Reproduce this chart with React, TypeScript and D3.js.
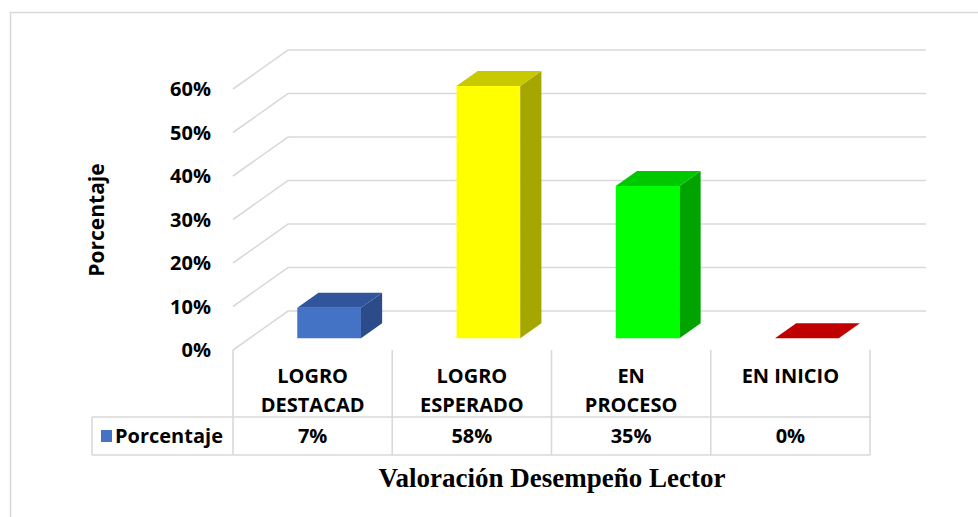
import React from "react";
import * as d3 from "d3";

// data
const categories = [
  ["LOGRO", "DESTACAD"],
  ["LOGRO", "ESPERADO"],
  ["EN", "PROCESO"],
  ["EN INICIO"],
];
const values = [0.07, 0.58, 0.35, 0];
const tickValues = [0, 0.1, 0.2, 0.3, 0.4, 0.5, 0.6];
const seriesName = "Porcentaje";
const axisTitle = "Porcentaje";
const chartTitle = "Valoración Desempeño Lector";

const barColors = [
  { front: "#4472C4", top: "#30559B", side: "#2B4C88" },
  { front: "#FFFF00", top: "#C9C900", side: "#A6A600" },
  { front: "#00FF00", top: "#00C800", side: "#00A300" },
  { front: "#C00000", top: "#C00000", side: "#990000" },
];

const W = 978;
const H = 517;
const grid = "#D9D9D9";
const sans = "'Open Sans', sans-serif";

export default function App() {
  const x = d3.scaleBand<number>().domain(d3.range(categories.length)).range([233, 870]);
  const y = d3.scaleLinear().domain([0, 0.6]).range([350, 89]);
  const depthX = 55;
  const depthY = -39;
  const gridRight = 926;
  const tableMid = 417;
  const tableBottom = 455;
  const tableLeft = 92;
  const pct = d3.format(".0%");

  // bar sits between depth 0.3 and 0.685
  const z0 = 0.3;
  const z1 = 0.685;
  const bw = x.bandwidth() * 0.4;

  const pts = (p: number[][]) => p.map((q) => q.join(",")).join(" ");

  return (
    <svg width={W} height={H} style={{ position: "absolute", left: 0, top: 0 }}>
      <rect x={0} y={0} width={W} height={H} fill="#fff" />
      <path d={`M10.5,${H + 2} V12.5 H${W + 2}`} fill="none" stroke={grid} strokeWidth={1.5} />

      {/* gridlines */}
      {tickValues.map((t) => (
        <g key={t}>
          <polyline
            points={pts([
              [x.range()[0], y(t)],
              [x.range()[0] + depthX, y(t) + depthY],
              [gridRight, y(t) + depthY],
            ])}
            fill="none"
            stroke={grid}
            strokeWidth={1.6}
          />
          <text
            x={211}
            y={y(t)}
            dy="0.36em"
            textAnchor="end"
            fontFamily={sans}
            fontWeight="bold"
            fontSize={20}
          >
            {pct(t)}
          </text>
        </g>
      ))}

      {/* 3d bars */}
      {values.map((v, i) => {
        const c = barColors[i];
        const left = (x(i) as number) + (x.bandwidth() - bw) / 2 + depthX * z0;
        const right = left + bw;
        const base = y(0) + depthY * z0;
        const top = y(v) + depthY * z0;
        const ddx = depthX * (z1 - z0);
        const ddy = depthY * (z1 - z0);
        return (
          <g key={i}>
            <polygon points={pts([[left, base], [right, base], [right, top], [left, top]])} fill={c.front} />
            <polygon
              points={pts([[right, base], [right + ddx, base + ddy], [right + ddx, top + ddy], [right, top]])}
              fill={c.side}
            />
            <polygon
              points={pts([[left, top], [right, top], [right + ddx, top + ddy], [left + ddx, top + ddy]])}
              fill={c.top}
            />
          </g>
        );
      })}

      {/* data table */}
      {[...x.domain().map((d) => x(d) as number), x.range()[1]].map((xx, i) => (
        <line key={i} x1={xx} x2={xx} y1={y(0)} y2={tableBottom} stroke={grid} strokeWidth={1.6} />
      ))}
      <line x1={tableLeft} x2={tableLeft} y1={tableMid} y2={tableBottom} stroke={grid} strokeWidth={1.6} />
      <line x1={tableLeft} x2={x.range()[1]} y1={tableMid} y2={tableMid} stroke={grid} strokeWidth={1.6} />
      <line x1={tableLeft} x2={x.range()[1]} y1={tableBottom} y2={tableBottom} stroke={grid} strokeWidth={1.6} />

      {categories.map((lines, i) => (
        <text
          key={i}
          x={(x(i) as number) + x.bandwidth() / 2}
          textAnchor="middle"
          fontFamily={sans}
          fontWeight="bold"
          fontSize={20}
        >
          {lines.map((l, j) => (
            <tspan key={j} x={(x(i) as number) + x.bandwidth() / 2} y={383 + j * 29}>
              {l}
            </tspan>
          ))}
        </text>
      ))}
      {values.map((v, i) => (
        <text
          key={i}
          x={(x(i) as number) + x.bandwidth() / 2}
          y={443}
          textAnchor="middle"
          fontFamily={sans}
          fontWeight="bold"
          fontSize={20}
        >
          {pct(v)}
        </text>
      ))}
      <rect x={101} y={430} width={11} height={12} fill={barColors[0].front} />
      <text x={115} y={443} fontFamily={sans} fontWeight="bold" fontSize={20}>
        {seriesName}
      </text>

      <text
        transform="translate(104,220) rotate(-90)"
        textAnchor="middle"
        fontFamily={sans}
        fontWeight="bold"
        fontSize={21}
      >
        {axisTitle}
      </text>
      <text
        x={552}
        y={487}
        textAnchor="middle"
        fontFamily="'Liberation Serif', 'Times New Roman', serif"
        fontWeight="bold"
        fontSize={27}
      >
        {chartTitle}
      </text>
    </svg>
  );
}
